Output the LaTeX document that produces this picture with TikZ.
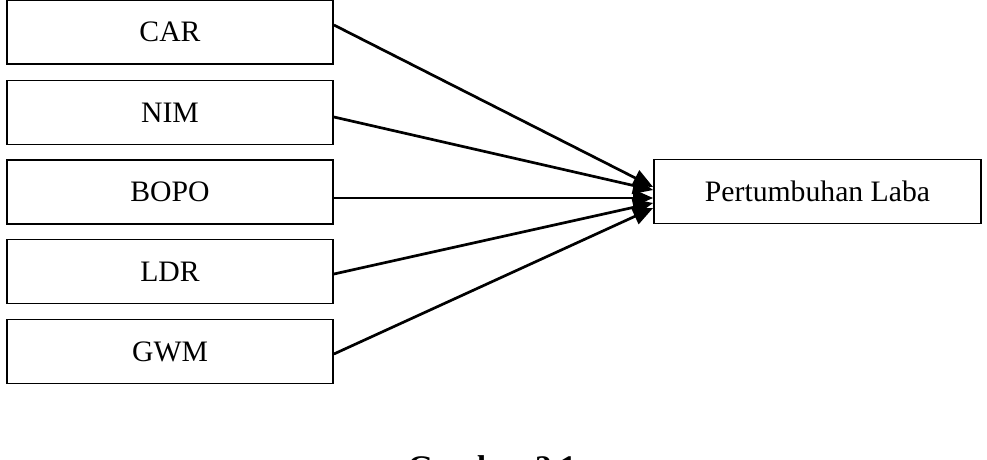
\documentclass[tikz,border=0pt]{standalone}
\usepackage{fontspec}
\setmainfont{Liberation Serif}
\usetikzlibrary{arrows.meta}
\begin{document}
\begin{tikzpicture}[x=1pt,y=-1pt,
  varbox/.style={draw, line width=1.8pt, rectangle, minimum width=326pt, minimum height=64pt, inner sep=0pt, font=\fontsize{29.7pt}{32pt}\selectfont},
  link/.style={line width=2.7pt, -{Triangle[length=20pt,width=17pt]}}]
\useasboundingbox (0,0) rectangle (987,460);
\node[varbox] (car)  at (170,32)    {CAR};
\node[varbox] (nim)  at (170,112.5) {NIM};
\node[varbox] (bopo) at (170,192)   {BOPO};
\node[varbox] (ldr)  at (170,271.5) {LDR};
\node[varbox] (gwm)  at (170,351.5) {GWM};
\node[varbox, minimum width=327pt] (plb) at (817.5,191.5) {Pertumbuhan Laba};
\draw[link] ([yshift=7pt]car.east)    -- ([yshift=4.5pt]plb.west);
\draw[link] ([yshift=-4.5pt]nim.east) -- ([yshift=1.5pt]plb.west);
\draw[link] ([yshift=-6pt]bopo.east)  -- ([yshift=-6.5pt]plb.west);
\draw[link] ([yshift=-2.5pt]ldr.east) -- ([yshift=-11.5pt]plb.west);
\draw[link] ([yshift=-2.5pt]gwm.east) -- ([yshift=-16.5pt]plb.west);
\node[anchor=base, inner sep=0pt, font=\fontsize{33pt}{36pt}\selectfont\bfseries] (cap) at (492,478) {Gambar 2.1};
\end{tikzpicture}
\end{document}
